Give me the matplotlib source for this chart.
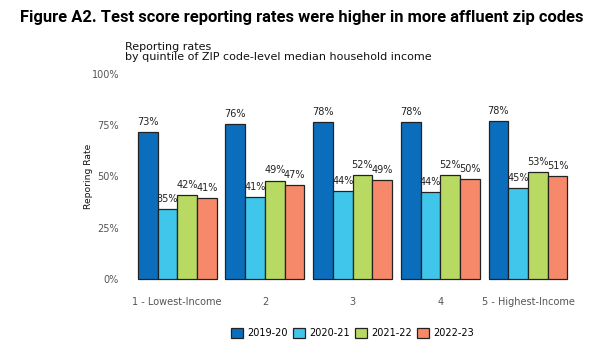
import numpy as np
import matplotlib.pyplot as plt

quintiles = ["1 - Lowest-Income", "2", "3", "4", "5 - Highest-Income"]
years = ["2019-20", "2020-21", "2021-22", "2022-23"]
colors = ["#0a6ebd", "#40c6ea", "#b8da62", "#f7896b"]

# bar heights as drawn (percent)
r1920 = [71.7, 75.5, 76.6, 76.6, 77.3]
r2021 = [34.2, 40.0, 42.8, 42.5, 44.5]
r2122 = [41.0, 48.0, 50.8, 50.8, 52.3]
r2223 = [39.4, 45.6, 48.2, 48.9, 50.3]
# printed labels
l1920 = [73, 76, 78, 78, 78]
l2021 = [35, 41, 44, 44, 45]
l2122 = [42, 49, 52, 52, 53]
l2223 = [41, 47, 49, 50, 51]

series = [r1920, r2021, r2122, r2223]
labels = [l1920, l2021, l2122, l2223]

fig = plt.figure(figsize=(6, 3.62), dpi=100)
ax = fig.add_axes([0.2077, 0.2018, 0.76, 0.6215])

x = np.arange(len(quintiles))
w = 0.225
for i, (vals, labs) in enumerate(zip(series, labels)):
    pos = x + (i - 1.5) * w
    ax.bar(pos, vals, width=w, color=colors[i], edgecolor="#222222",
           linewidth=0.9, label=years[i])
    for p, v, t in zip(pos, vals, labs):
        ax.text(p, v + 2.5, f"{t}%", ha="center", va="bottom",
                fontsize=7, color="#222222")

ax.set_xlim(-0.6, 4.6)
ax.set_ylim(-5, 105)
ax.set_yticks([0, 25, 50, 75, 100])
ax.set_yticklabels(["0%", "25%", "50%", "75%", "100%"])
ax.set_xticks(x)
ax.set_xticklabels(quintiles)
ax.tick_params(length=0, labelsize=7, colors="#555555", pad=4)
ax.tick_params(axis="x", pad=6)
for s in ax.spines.values():
    s.set_visible(False)
ax.set_ylabel("Reporing Rate", fontsize=6.6, color="#111111", labelpad=-1)

ax.legend(loc="upper center", bbox_to_anchor=(0.5, -0.135), ncol=4,
          frameon=False, fontsize=7, handlelength=1.2, handleheight=1.2,
          handletextpad=0.4, columnspacing=0.6)

fig.text(0.033, 0.953, "Figure A2. Test score reporting rates were higher in more affluent zip codes",
         fontsize=11.9, fontweight="bold", family="Roboto", va="center")
fig.text(0.208, 0.855, "Reporting rates\nby quintile of ZIP code-level median household income",
         fontsize=8, color="#111111", va="center", linespacing=1.0)

fig.savefig("out.png", dpi=100)
